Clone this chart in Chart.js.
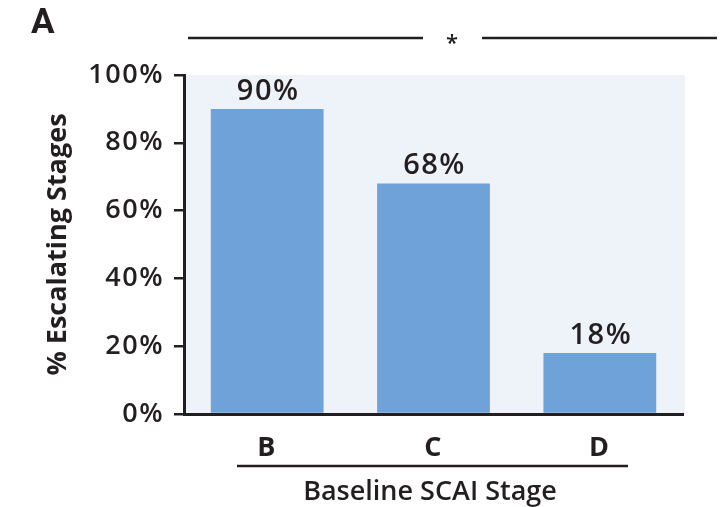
<!DOCTYPE html>
<html><head><meta charset="utf-8">
<script src="https://cdn.jsdelivr.net/npm/chart.js@4/dist/chart.umd.min.js"></script>
<style>html,body{margin:0;padding:0;background:#fff}#wrap{width:726px;height:507px}</style>
</head><body><div id="wrap"><canvas id="c" width="726" height="507"></canvas></div>
<script>
const categories = ['B', 'C', 'D'];
const escalatingPct = [90, 68, 18];
const valueLabels = ['90%', '68%', '18%'];
const yTickValues = [0, 20, 40, 60, 80, 100];
const panelLabel = 'A';
const xTitle = 'Baseline SCAI Stage';
const yTitle = '% Escalating Stages';
const sigMark = '*';

const INK = '#231F20';
const FONT = "'Open Sans', 'Noto Sans', sans-serif";

const extras = {
  id: 'extras',
  beforeDraw(chart) {
    const {ctx, chartArea: a} = chart;
    ctx.letterSpacing = '1.5px';
    ctx.save();
    ctx.fillStyle = '#EEF2F9';
    ctx.fillRect(a.left, a.top, a.right - a.left + 2, a.bottom - a.top);
    ctx.restore();
  },
  afterDraw(chart) {
    const {ctx, chartArea: a} = chart;
    const meta = chart.getDatasetMeta(0);
    ctx.save();
    ctx.fillStyle = INK;
    ctx.textAlign = 'center';
    ctx.textBaseline = 'alphabetic';
    ctx.letterSpacing = '1.5px';
    ctx.font = "600 29px " + FONT;
    meta.data.forEach((bar, i) => {
      ctx.fillText(valueLabels[i], bar.x + 1, bar.y - 9);
    });
    ctx.letterSpacing = '0px';
    // panel letter
    ctx.textAlign = 'left';
    ctx.font = "bold 35px 'Liberation Sans Narrow', 'Roboto', sans-serif";
    ctx.fillText(panelLabel, 31, 33);
    // axis titles
    ctx.textAlign = 'center';
    ctx.font = "600 27px " + FONT;
    ctx.fillText(xTitle, 430, 500);
    ctx.save();
    ctx.translate(58, (a.top + a.bottom) / 2);
    ctx.rotate(-Math.PI / 2);
    ctx.textBaseline = 'middle';
    ctx.font = "bold 27px " + FONT;
    ctx.fillText(yTitle, 0, 0);
    ctx.restore();
    // significance bracket
    ctx.strokeStyle = INK;
    ctx.lineWidth = 2.5;
    ctx.beginPath();
    ctx.moveTo(188, 38); ctx.lineTo(423, 38);
    ctx.moveTo(482, 38); ctx.lineTo(717, 38);
    // line under category labels
    ctx.moveTo(237, 466); ctx.lineTo(628, 466);
    ctx.stroke();
    ctx.font = "600 22px " + FONT;
    ctx.fillText(sigMark, 452, 50);
    ctx.restore();
  }
};

new Chart(document.getElementById('c'), {
  type: 'bar',
  data: {
    labels: categories,
    datasets: [{
      data: escalatingPct,
      backgroundColor: '#6FA2D8',
      borderWidth: 0,
      categoryPercentage: 1,
      barPercentage: 0.678
    }]
  },
  options: {
    responsive: false,
    animation: false,
    events: [],
    layout: {padding: {top: 75, right: 43, bottom: 0, left: 0}},
    plugins: {legend: {display: false}, tooltip: {enabled: false}},
    scales: {
      y: {
        min: 0, max: 100,
        afterBuildTicks(s) { s.ticks = yTickValues.map(v => ({value: v})); },
        afterFit(s) { s.width = 184; },
        ticks: {
          callback: v => v + '%',
          color: INK,
          font: {family: FONT, size: 27, weight: '600'},
          padding: 10
        },
        grid: {drawOnChartArea: false, drawTicks: true, tickLength: 10, color: INK, lineWidth: 2.5},
        border: {color: INK, width: 3}
      },
      x: {
        afterFit(s) { s.height = 93; },
        ticks: {color: INK, font: {family: FONT, size: 27, weight: 'bold'}, padding: 10},
        grid: {display: false},
        border: {color: INK, width: 3}
      }
    }
  },
  plugins: [extras]
});
</script></body></html>
